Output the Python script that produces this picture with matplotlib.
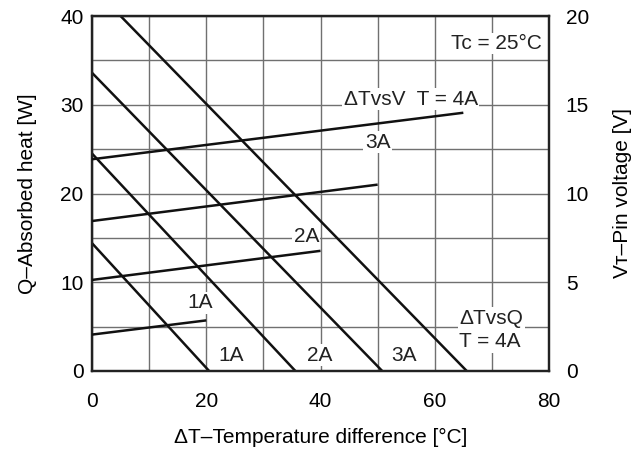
import matplotlib
matplotlib.use("Agg")
import matplotlib.pyplot as plt
from matplotlib.ticker import MultipleLocator

plt.rcParams['font.family'] = ['Liberation Sans', 'DejaVu Sans']

# Q (absorbed heat) vs dT lines, per current
q_1a_dt = [0, 20.5]
q_1a_q = [14.4, 0]
q_2a_dt = [0, 35.6]
q_2a_q = [24.5, 0]
q_3a_dt = [0, 50.8]
q_3a_q = [33.6, 0]
q_4a_dt = [5, 65.6]
q_4a_q = [40, 0]

# V (pin voltage) vs dT lines, per current
v_1a_dt = [0, 20]
v_1a_v = [2.05, 2.85]
v_2a_dt = [0, 40]
v_2a_v = [5.13, 6.77]
v_3a_dt = [0, 50]
v_3a_v = [8.45, 10.5]
v_4a_dt = [0, 65]
v_4a_v = [11.93, 14.55]

x_ticks = [0, 20, 40, 60, 80]
yl_ticks = [0, 10, 20, 30, 40]
yr_ticks = [0, 5, 10, 15, 20]

fig = plt.figure(figsize=(6.44, 4.5), dpi=100)
ax = fig.add_axes([0.1429, 0.1756, 0.7096, 0.7888])
ax2 = ax.twinx()

fs = 15
lc = '#111111'
lw = 1.8

ax.set_xlim(0, 80)
ax.set_ylim(0, 40)
ax2.set_ylim(0, 20)
ax.set_xticks(x_ticks)
ax.set_yticks(yl_ticks)
ax2.set_yticks(yr_ticks)
ax.xaxis.set_minor_locator(MultipleLocator(10))
ax.yaxis.set_minor_locator(MultipleLocator(5))
ax.grid(True, which='both', color='#707070', linewidth=1.0, zorder=1)
ax.set_axisbelow(True)

ax.tick_params(axis='both', which='both', length=0, labelsize=fs)
ax.tick_params(axis='x', pad=15)
ax.tick_params(axis='y', pad=6)
ax2.tick_params(axis='y', length=0, labelsize=fs, pad=12)

for a in (ax, ax2):
    for s in a.spines.values():
        s.set_linewidth(1.6)
        s.set_color('#222222')

for xs, ys in [(q_1a_dt, q_1a_q), (q_2a_dt, q_2a_q), (q_3a_dt, q_3a_q), (q_4a_dt, q_4a_q)]:
    ax.plot(xs, ys, color=lc, linewidth=lw, zorder=5, clip_on=True, solid_capstyle='butt')
for xs, ys in [(v_1a_dt, v_1a_v), (v_2a_dt, v_2a_v), (v_3a_dt, v_3a_v), (v_4a_dt, v_4a_v)]:
    ax2.plot(xs, ys, color=lc, linewidth=lw, zorder=5, clip_on=True, solid_capstyle='butt')

bb = dict(facecolor='white', edgecolor='none', pad=1.0)
def lab(x, y, s, ha='center', va='center', ls=1.0):
    ax.text(x, y, s, fontsize=fs, ha=ha, va=va, color='#222222', bbox=bb, zorder=4,
            linespacing=ls)

lab(55.8, 30.6, '\u0394TvsV  T = 4A')
lab(50, 25.8, '3A')
lab(37.5, 15.2, '2A')
lab(19, 7.7, '1A')
lab(24.3, 1.8, '1A')
lab(39.8, 1.8, '2A')
lab(54.6, 1.8, '3A')
lab(64.3, 4.6, '\u0394TvsQ\nT = 4A', ha='left', ls=1.3)
lab(78.8, 36.9, 'Tc = 25\u00b0C', ha='right')

ax.set_xlabel('\u0394T\u2013Temperature difference [\u00b0C]', fontsize=fs, labelpad=12)
ax.set_ylabel('Q\u2013Absorbed heat [W]', fontsize=fs, labelpad=17)
ax2.set_ylabel('V\u1d1b\u2013Pin voltage [V]', fontsize=fs, labelpad=17)

fig.savefig('out.png', dpi=100)
